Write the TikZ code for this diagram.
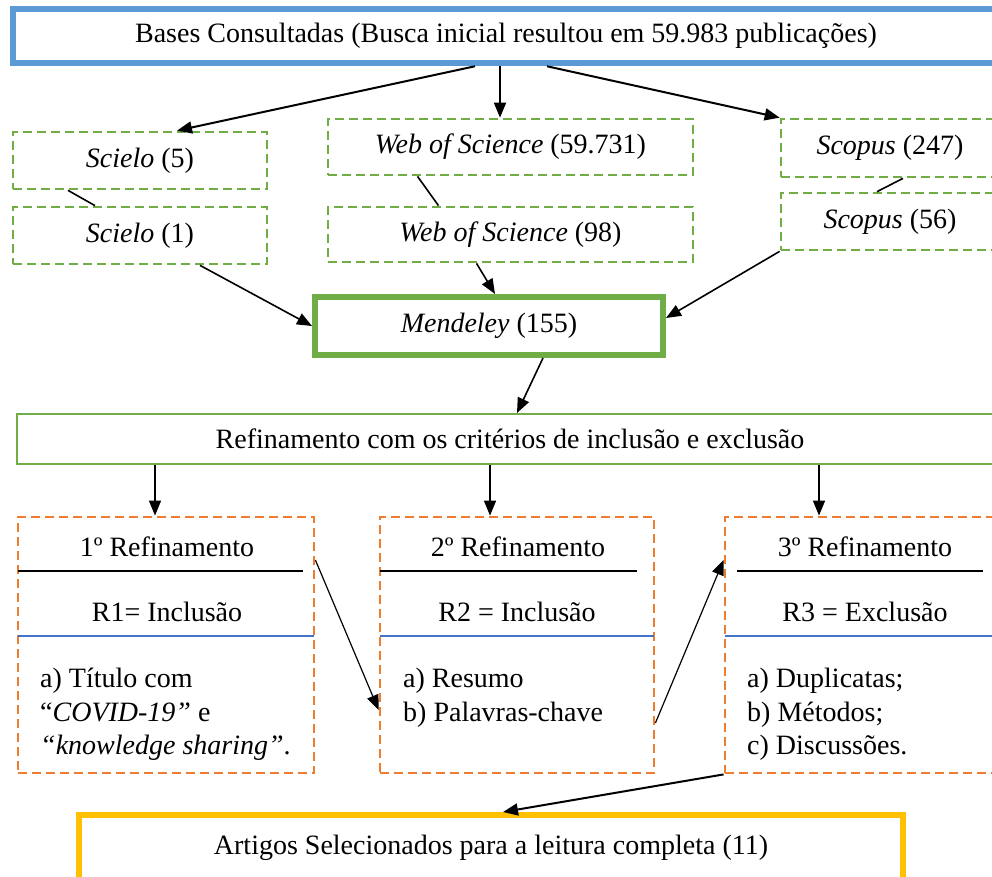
\documentclass[tikz,border=0pt]{standalone}
\usepackage{fontspec}
\setmainfont{Liberation Serif}
\usetikzlibrary{arrows.meta}
\definecolor{azul}{HTML}{5B9BD5}
\definecolor{verde}{HTML}{70AD47}
\definecolor{laranja}{HTML}{ED7D31}
\definecolor{amarelo}{HTML}{FFC000}
\definecolor{linhaazul}{HTML}{4472C4}

\begin{document}
\begin{tikzpicture}[x=1pt,y=-1pt,font=\fontsize{28}{33.5}\selectfont,
	fonte/.style={draw=verde,line width=2.7pt,dash pattern=on 9pt off 5pt,inner sep=0pt},
	etapa/.style={draw=laranja,line width=2.8pt,dash pattern=on 9pt off 5pt,inner sep=0pt},
	seta/.style={-{Triangle[length=15pt,width=12pt]},line width=1.6pt},
	liga/.style={line width=1.6pt}]
	\clip (0,0) rectangle (992,876);
	% bases e fontes
	\node[draw=azul,line width=6.5pt,minimum width=986pt,minimum height=54pt,inner sep=0pt] (bases) at (506,36) {Bases Consultadas (Busca inicial resultou em 59.983 publicações)};
	\node[fonte,minimum width=254pt,minimum height=57pt] (scielo5) at (140,160.5) {\textit{Scielo} (5)};
	\node[fonte,minimum width=254pt,minimum height=57pt] (scielo1) at (140,235.5) {\textit{Scielo} (1)};
	\node[fonte,minimum width=365pt,minimum height=56pt] (wos1) at (510.5,147) {\textit{Web of Science} (59.731)};
	\node[fonte,minimum width=365pt,minimum height=55pt] (wos2) at (510.5,234.5) {\textit{Web of Science} (98)};
	\node[fonte,minimum width=218pt,minimum height=58pt] (scopus1) at (890,148) {\textit{Scopus} (247)};
	\node[fonte,minimum width=218pt,minimum height=57pt] (scopus2) at (890,221.5) {\textit{Scopus} (56)};
	\node[draw=verde,line width=6pt,minimum width=348pt,minimum height=58pt,inner sep=0pt] (mendeley) at (489,326) {\textit{Mendeley} (155)};
	\node[draw=verde,line width=2pt,minimum width=986pt,minimum height=50pt,inner sep=0pt] (refin) at (510,439) {Refinamento com os critérios de inclusão e exclusão};
	% etapas de refinamento
	\node[etapa,minimum width=296pt,minimum height=256pt] (r1) at (166,645) {};
	\node[etapa,minimum width=274pt,minimum height=256pt] (r2) at (517,645) {};
	\node[etapa,minimum width=280pt,minimum height=256pt] (r3) at (865,645) {};
	\node (t1) at (167,547) {1º Refinamento};
	\node (t2) at (518,547) {2º Refinamento};
	\node (t3) at (865,547) {3º Refinamento};
	\node (c1) at (167,612) {R1= Inclusão};
	\node (c2) at (517,612) {R2 = Inclusão};
	\node (c3) at (865,612) {R3 = Exclusão};
	\node[anchor=north west,align=left,inner sep=0pt] (l1) at (40,668) {a) Título com\\“\textit{COVID-19”} e\\\textit{“knowledge sharing”}.};
	\node[anchor=north west,align=left,inner sep=0pt] (l2) at (403,668) {a) Resumo\\b) Palavras-chave};
	\node[anchor=north west,align=left,inner sep=0pt] (l3) at (747,668) {a) Duplicatas;\\b) Métodos;\\c) Discussões.};
	\foreach \a/\b in {18/303, 380/637, 737/983}
		\draw[line width=1.5pt] (\a,571) -- (\b,571);
	\foreach \a/\b in {18/314, 380/654, 725/992}
		\draw[linhaazul,line width=1.2pt] (\a,636) -- (\b,636);
	\node[draw=amarelo,line width=6pt,minimum width=824pt,minimum height=66pt,inner sep=0pt] (artigos) at (491,848) {Artigos Selecionados para a leitura completa (11)};
	% ligacoes
	\draw[seta,line width=2pt] ([xshift=-31pt]bases.south) -- ([xshift=37pt]scielo5.north);
	\draw[seta,line width=2pt] ([xshift=-6pt]bases.south) -- ([xshift=-10.5pt]wos1.north);
	\draw[seta,line width=2pt] ([xshift=41pt]bases.south) -- (scopus1.north west);
	\draw[liga] ([xshift=-72pt]scielo5.south) -- ([xshift=-45pt]scielo1.north);
	\draw[liga] ([xshift=-93pt]wos1.south) -- ([xshift=-72pt]wos2.north);
	\draw[liga] ([xshift=13pt]scopus1.south) -- ([xshift=-13pt]scopus2.north);
	\draw[seta] ([xshift=60pt]scielo1.south) -- (mendeley.west);
	\draw[seta] ([xshift=-34pt]wos2.south) -- ([xshift=6pt]mendeley.north);
	\draw[seta] (scopus2.south west) -- ([yshift=8pt]mendeley.east);
	\draw[seta] ([xshift=54pt]mendeley.south) -- ([xshift=7pt]refin.north);
	\draw[seta] ([xshift=-11pt]r1.north |- refin.south) -- ([xshift=-11pt]r1.north);
	\draw[seta] ([xshift=-27pt]r2.north |- refin.south) -- ([xshift=-27pt]r2.north);
	\draw[seta] ([xshift=-46pt]r3.north |- refin.south) -- ([xshift=-46pt]r3.north);
	\draw[seta,line width=1.2pt] ([yshift=85pt]r1.east) -- ([yshift=-65pt]r2.west);
	\draw[seta,line width=1.2pt] ([yshift=-78pt]r2.east) -- ([yshift=85pt]r3.west);
	\draw[seta,line width=2pt] (r3.south west) -- ([xshift=12pt]artigos.north);
\end{tikzpicture}
\end{document}
